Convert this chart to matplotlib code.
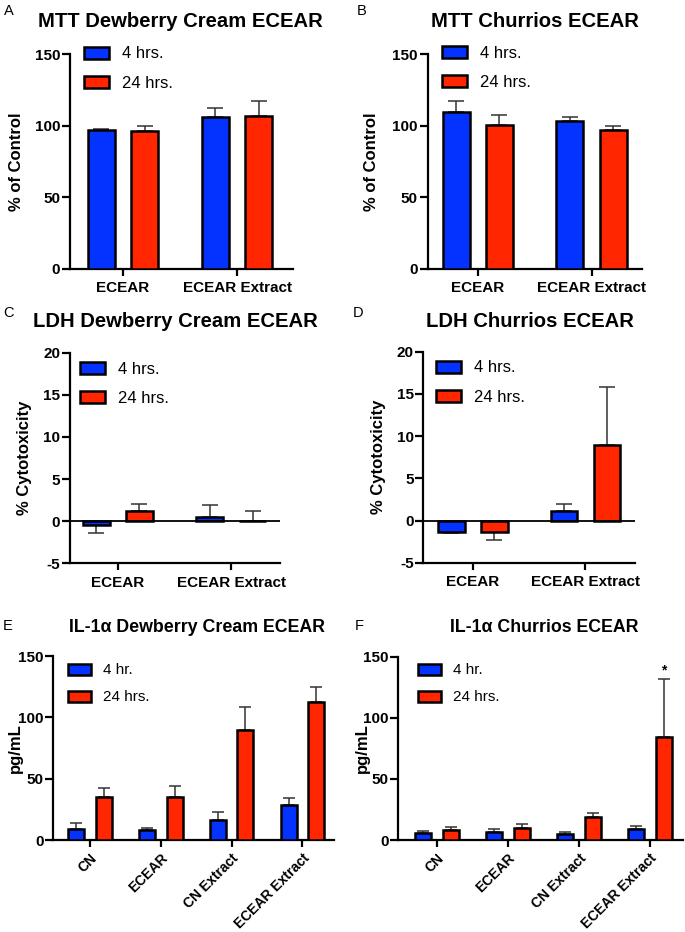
import matplotlib
matplotlib.use("Agg")
import matplotlib.pyplot as plt
from matplotlib.patches import Patch
import numpy as np

plt.rcParams['font.family'] = ['Liberation Sans', 'DejaVu Sans']

BLUE = '#0433FF'
RED = '#FF2600'

# ---------------- data ----------------
groups2 = ['ECEAR', 'ECEAR Extract']
groups4 = ['CN', 'ECEAR', 'CN Extract', 'ECEAR Extract']

mtt_dew_4 = [97, 106]
mtt_dew_4_err = [1, 6]
mtt_dew_24 = [96, 107]
mtt_dew_24_err = [3.5, 10]

mtt_chu_4 = [109.6, 103]
mtt_chu_4_err = [7.4, 3]
mtt_chu_24 = [100.5, 97]
mtt_chu_24_err = [7, 3]

ldh_dew_4 = [-0.4, 0.5]
ldh_dew_4_err = [1.05, 1.4]
ldh_dew_24 = [1.15, 0.0]
ldh_dew_24_err = [0.9, 1.2]

ldh_chu_4 = [-1.35, 1.1]
ldh_chu_4_err = [0.1, 0.8]
ldh_chu_24 = [-1.4, 8.9]
ldh_chu_24_err = [0.9, 6.9]

il_dew_4 = [9.2, 8.4, 16.3, 28.3]
il_dew_4_err = [4.9, 1.6, 6.3, 6.0]
il_dew_24 = [35.3, 35, 89.7, 112.5]
il_dew_24_err = [6.7, 8.8, 18.8, 12.2]

il_chu_4 = [5.5, 6.5, 4.9, 8.7]
il_chu_4_err = [2.1, 2.8, 1.6, 2.5]
il_chu_24 = [8.4, 10, 18.8, 84.6]
il_chu_24_err = [2.5, 2.8, 3.5, 46.9]

W, H = 685, 932
fig = plt.figure(figsize=(W / 100, H / 100), dpi=100)


def px_axes(x0, x1, ytop, ybot):
    return fig.add_axes([x0 / W, 1 - ybot / H, (x1 - x0) / W, (ybot - ytop) / H])


def one_sided(vals, errs):
    lo = [e if v < 0 else 0 for v, e in zip(vals, errs)]
    hi = [e if v >= 0 else 0 for v, e in zip(vals, errs)]
    return [lo, hi]


def panel(box, letter, letter_xy, title, title_xy, title_fs, groups, s4, e4, s24, e24,
          ylim, yticks, ylabel, ylabel_x, xlim, width, offset, capsize, leg_labels,
          leg_anchor, leg_fs, rotate=False, zero_line=False):
    ax = px_axes(*box)
    x = np.arange(len(groups))
    for vals, errs, col, off in [(s4, e4, BLUE, -offset), (s24, e24, RED, offset)]:
        ax.errorbar(x + off, vals, yerr=one_sided(vals, errs), fmt='none',
                    ecolor='#333333', elinewidth=1.1, capsize=capsize,
                    capthick=1.1, zorder=2)
        ax.bar(x + off, vals, width=width, color=col, edgecolor='black',
               linewidth=1.8, zorder=3)
    ax.set_xlim(*xlim)
    ax.set_ylim(*ylim)
    ax.set_yticks(yticks)
    ax.set_yticklabels([str(t) for t in yticks], fontsize=11, fontweight='bold')
    ax.set_xticks(x)
    if rotate:
        ax.set_xticklabels(groups, fontsize=10, fontweight='bold', rotation=45,
                           ha='right', va='top', rotation_mode='anchor')
        ax.tick_params(axis='x', pad=3)
    else:
        ax.set_xticklabels(groups, fontsize=11, fontweight='bold')
        ax.tick_params(axis='x', pad=4)
    for s in ['top', 'right']:
        ax.spines[s].set_visible(False)
    for s in ['left', 'bottom']:
        ax.spines[s].set_linewidth(1.6)
    ax.tick_params(axis='y', length=6, width=1.6, pad=1)
    ax.tick_params(axis='x', length=5, width=1.6)
    if zero_line:
        ax.axhline(0, color='black', linewidth=1.3, zorder=4)
    ax.set_ylabel(ylabel, fontsize=12, fontweight='bold', va='center')
    x0 = box[0]
    ax.yaxis.set_label_coords((ylabel_x - x0) / (box[1] - x0), 0.5)
    handles = [Patch(facecolor=BLUE, edgecolor='black', linewidth=1.8),
               Patch(facecolor=RED, edgecolor='black', linewidth=1.8)]
    ax.legend(handles, leg_labels, loc='upper left',
              bbox_to_anchor=(leg_anchor[0] / W, 1 - leg_anchor[1] / H),
              bbox_transform=fig.transFigure, frameon=False, fontsize=leg_fs,
              handlelength=1.5, handleheight=0.75, handletextpad=0.8,
              labelspacing=0.85, borderpad=0, borderaxespad=0)
    fig.text(title_xy[0] / W, 1 - title_xy[1] / H, title, fontsize=title_fs,
             fontweight='bold', ha='center', va='baseline')
    fig.text(letter_xy[0] / W, 1 - letter_xy[1] / H, letter, fontsize=10.5,
             ha='left', va='baseline')
    return ax


panel((70, 293, 54, 269), 'A', (4, 15), 'MTT Dewberry Cream ECEAR', (180, 27), 14.6,
      groups2, mtt_dew_4, mtt_dew_4_err, mtt_dew_24, mtt_dew_24_err,
      (0, 150), [0, 50, 100, 150], '% of Control', 17, (-0.465, 1.49), 0.237, 0.19,
      5.5, ['4 hrs.', '24 hrs.'], (84, 46.5), 12)

panel((427.7, 641.7, 54, 269), 'B', (357, 15), 'MTT Churrios ECEAR', (535, 27), 14.6,
      groups2, mtt_chu_4, mtt_chu_4_err, mtt_chu_24, mtt_chu_24_err,
      (0, 150), [0, 50, 100, 150], '% of Control', 372, (-0.44, 1.44), 0.237, 0.19,
      5.5, ['4 hrs.', '24 hrs.'], (441.7, 46), 12)

panel((70, 280, 352.7, 563.3), 'C', (3, 317), 'LDH Dewberry Cream ECEAR', (175, 327), 14.6,
      groups2, ldh_dew_4, ldh_dew_4_err, ldh_dew_24, ldh_dew_24_err,
      (-5, 20), [-5, 0, 5, 10, 15, 20], '% Cytotoxicity', 25, (-0.42, 1.43), 0.237, 0.19,
      5.5, ['4 hrs.', '24 hrs.'], (80, 361.5), 12, zero_line=True)

panel((423.3, 635, 351.7, 562.7), 'D', (353, 317), 'LDH Churrios ECEAR', (529.5, 327), 14.6,
      groups2, ldh_chu_4, ldh_chu_4_err, ldh_chu_24, ldh_chu_24_err,
      (-5, 20), [-5, 0, 5, 10, 15, 20], '% Cytotoxicity', 378, (-0.44, 1.44), 0.237, 0.19,
      5.5, ['4 hrs.', '24 hrs.'], (435.7, 360.5), 12, zero_line=True)

panel((53.3, 334.3, 656, 840), 'E', (3, 630), 'IL-1α Dewberry Cream ECEAR', (197, 632), 12.8,
      groups4, il_dew_4, il_dew_4_err, il_dew_24, il_dew_24_err,
      (0, 150), [0, 50, 100, 150], 'pg/mL', 15, (-0.52, 3.45), 0.226, 0.195,
      4.5, ['4 hr.', '24 hrs.'], (68.3, 663.5), 11, rotate=True)

ax_f = panel((398.3, 683.3, 656.7, 840), 'F', (355, 630), 'IL-1α Churrios ECEAR', (544.5, 632), 12.8,
             groups4, il_chu_4, il_chu_4_err, il_chu_24, il_chu_24_err,
             (0, 150), [0, 50, 100, 150], 'pg/mL', 362, (-0.54, 3.47), 0.226, 0.195,
             4.5, ['4 hr.', '24 hrs.'], (417.7, 663.5), 11, rotate=True)

# significance marker
ax_f.annotate('*', xy=(3 + 0.195, il_chu_24[3] + il_chu_24_err[3]),
              xytext=(0, 1), textcoords='offset points', ha='center', va='bottom',
              fontsize=10, fontweight='bold')

fig.savefig('out.png', dpi=100)
